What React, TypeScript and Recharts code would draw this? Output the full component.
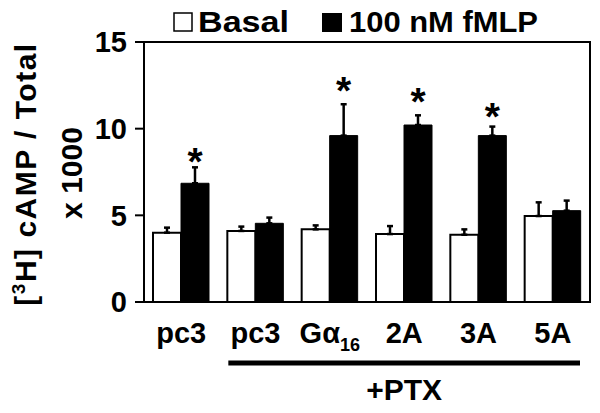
import React from 'react';
import { BarChart, Bar, XAxis, YAxis, ErrorBar, LabelList, ReferenceArea } from 'recharts';

const categories = ['pc3', 'pc3b', 'Ga16', '2A', '3A', '5A'];
const tickMain = ['pc3', 'pc3', 'Gα', '2A', '3A', '5A'];
const tickSub = ['', '', '16', '', '', ''];
const basal = [4.0, 4.1, 4.19, 3.92, 3.88, 4.96];
const basalErr = [0.29, 0.25, 0.23, 0.46, 0.31, 0.79];
const fmlp = [6.85, 4.54, 9.6, 10.21, 9.6, 5.27];
const fmlpErr = [0.92, 0.33, 1.81, 0.56, 0.52, 0.58];
const stars: (number | null)[] = [8.6, null, 12.7, 12.04, 11.2, null];
const yTicks = [0, 5, 10, 15];

const data = categories.map((c, i) => ({
  name: c,
  idx: i,
  basal: basal[i],
  basalErr: [0, basalErr[i]],
  fmlp: fmlp[i],
  fmlpErr: [0, fmlpErr[i]],
}));

const FONT = '"Liberation Sans", Arial, Helvetica, sans-serif';

const XTick = (props: any) => {
  const { x, y, payload } = props;
  const i = payload && typeof payload.index === 'number' ? payload.index : categories.indexOf(payload.value);
  return (
    <text x={x} y={y + 20} textAnchor="middle" fontFamily={FONT} fontWeight="bold" fontSize={29} fill="#000">
      <tspan>{tickMain[i]}</tspan>
      {tickSub[i] ? (
        <tspan dy={8} fontSize={18}>
          {tickSub[i]}
        </tspan>
      ) : null}
    </text>
  );
};

const PtxLabel = (props: any) => {
  const vb = props.viewBox || {};
  const band = vb.width / categories.length;
  const x1 = vb.x + band + 10;
  const x2 = vb.x + vb.width - 10;
  const ly = vb.y + 61;
  return (
    <g>
      <line x1={x1} x2={x2} y1={ly} y2={ly} stroke="#000" strokeWidth={5} />
      <text x={(x1 + x2) / 2} y={vb.y + 98} textAnchor="middle" fontFamily={FONT} fontWeight="bold" fontSize={30} fill="#000">
        +PTX
      </text>
    </g>
  );
};

const YLabel = (props: any) => {
  const vb = props.viewBox || {};
  const cy = vb.y + vb.height / 2;
  const c1 = 36;
  const c2 = 82;
  return (
    <g>
      <text
        x={c1}
        y={cy + 2}
        transform={`rotate(-90, ${c1}, ${cy + 2})`}
        textAnchor="middle"
        fontFamily={FONT}
        fontWeight="bold"
        fontSize={30}
        letterSpacing={1.5}
        fill="#000"
      >
        <tspan>[</tspan>
        <tspan dy={-11} fontSize={19}>3</tspan>
        <tspan dy={11}>H] cAMP / Total</tspan>
      </text>
      <text
        x={c2}
        y={cy + 1}
        transform={`rotate(-90, ${c2}, ${cy + 1})`}
        textAnchor="middle"
        fontFamily={FONT}
        fontWeight="bold"
        fontSize={30}
        fill="#000"
      >
        x 1000
      </text>
    </g>
  );
};

const StarLabel = (props: any) => {
  const index = props.index;
  const vb = props.viewBox && props.viewBox.height !== undefined ? props.viewBox : props;
  const { x, y, width, height } = vb;
  const s = stars[index];
  if (s == null || height == null) return null;
  const base = y + height;
  const py = base - (s * height) / fmlp[index];
  return (
    <text x={x + width / 2} y={py + 22} textAnchor="middle" fontFamily={FONT} fontWeight="bold" fontSize={39} fill="#000">
      *
    </text>
  );
};

export default function App() {
  return (
    <div style={{ position: 'absolute', left: 0, top: 0, width: 600, height: 413, background: '#fff' }}>
      <BarChart
        width={600}
        height={413}
        data={data}
        margin={{ top: 42, right: 10, bottom: 0, left: 0 }}
        barCategoryGap={9}
        barGap={0}
      >
        <XAxis
          dataKey="name"
          height={111}
          axisLine={{ stroke: '#000', strokeWidth: 2 }}
          tickLine={false}
          tickSize={0}
          tickMargin={21}
          tick={<XTick />}
          interval={0}
          label={<PtxLabel />}
        />
        <YAxis
          width={144}
          domain={[0, 15]}
          ticks={yTicks}
          tickSize={9}
          tickMargin={8}
          axisLine={{ stroke: '#000', strokeWidth: 2 }}
          tickLine={{ stroke: '#000', strokeWidth: 2 }}
          tick={{ fill: '#000', fontFamily: FONT, fontWeight: 'bold', fontSize: 29 }}
          label={<YLabel />}
        />
        <ReferenceArea y1={0} y2={15} fill="none" stroke="#000" strokeWidth={2} ifOverflow="visible" />
        <Bar dataKey="basal" fill="#fff" stroke="#000" strokeWidth={2} isAnimationActive={false}>
          <ErrorBar dataKey="basalErr" width={3} stroke="#000" strokeWidth={2.5} direction="y" />
        </Bar>
        <Bar dataKey="fmlp" fill="#000" stroke="#000" strokeWidth={1} isAnimationActive={false}>
          <ErrorBar dataKey="fmlpErr" width={3} stroke="#000" strokeWidth={2.5} direction="y" />
          <LabelList dataKey="fmlp" content={<StarLabel />} />
        </Bar>
      </BarChart>
      <svg width={600} height={42} style={{ position: 'absolute', left: 0, top: 0, pointerEvents: 'none' }}>
        <rect x={174} y={13} width={18} height={18} fill="#fff" stroke="#000" strokeWidth={1.5} />
        <text x={198} y={32} fontFamily={FONT} fontWeight="bold" fontSize={29} textLength={91} lengthAdjust="spacingAndGlyphs" fill="#000">
          Basal
        </text>
        <rect x={322} y={13} width={20} height={19} fill="#000" />
        <text x={349} y={32} fontFamily={FONT} fontWeight="bold" fontSize={29} textLength={189} lengthAdjust="spacingAndGlyphs" fill="#000">
          100 nM fMLP
        </text>
      </svg>
    </div>
  );
}
